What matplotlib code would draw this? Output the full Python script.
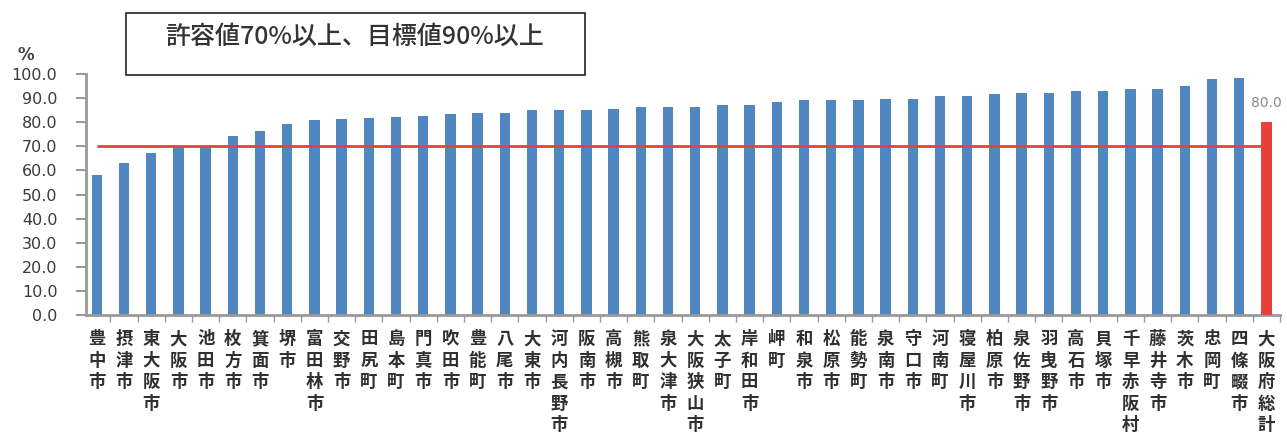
import numpy as np
import matplotlib.pyplot as plt
from matplotlib.patches import Rectangle

plt.rcParams['font.family'] = ['Noto Sans CJK JP', 'DejaVu Sans']

# --- データ ---
names = ['豊中市', '摂津市', '東大阪市', '大阪市', '池田市', '枚方市', '箕面市', '堺市',
         '富田林市', '交野市', '田尻町', '島本町', '門真市', '吹田市', '豊能町', '八尾市',
         '大東市', '河内長野市', '阪南市', '高槻市', '熊取町', '泉大津市', '大阪狭山市',
         '太子町', '岸和田市', '岬町', '和泉市', '松原市', '能勢町', '泉南市', '守口市',
         '河南町', '寝屋川市', '柏原市', '泉佐野市', '羽曳野市', '高石市', '貝塚市',
         '千早赤阪村', '藤井寺市', '茨木市', '忠岡町', '四條畷市']
values = [58.1, 63.1, 67.3, 69.9, 69.8, 74.2, 76.2, 79.2, 81.1, 81.5, 81.8, 82.3, 82.6,
          83.6, 84.0, 84.0, 85.1, 85.1, 85.1, 85.7, 86.4, 86.4, 86.4, 87.3, 87.0, 88.4,
          89.1, 89.1, 89.1, 89.8, 89.8, 90.9, 90.9, 91.8, 92.1, 92.1, 92.9, 93.2, 94.0,
          94.0, 95.0, 97.8, 98.2]
total_name = '大阪府総計'
total_value = 80.0
allow_line = 70.0
y_ticks = np.arange(0, 101, 10)

fig = plt.figure(figsize=(12.87, 4.36), dpi=100)
ax = fig.add_axes([0.0668, 0.2775, 0.9278, 0.5525])

x = np.arange(len(names))
ax.bar(x, values, width=0.38, color='#5087c0', zorder=2)
xt = len(names)
ax.bar([xt], [total_value], width=0.42, color='#e8403c', zorder=3)
ax.hlines(allow_line, 0, xt, color='#e8403c', lw=2, zorder=2.5)
ax.annotate(f'{total_value:.1f}', (xt, total_value), xytext=(0, 9), textcoords='offset points',
            ha='center', va='bottom', fontsize=10, color='#8a8a8a', family='DejaVu Sans')

ax.set_xlim(-0.4, xt + 0.48)
ax.set_ylim(0, 100)
ax.set_yticks(y_ticks)
ax.set_yticklabels([f'{v:.1f}' for v in y_ticks], fontsize=11.5, color='#3a3a3a',
                   family='DejaVu Sans')
ax.tick_params(axis='y', length=7, width=1.5, color='#999999', pad=13.5)

labels = ['\n'.join(s) for s in names + [total_name]]
ax.set_xticks(np.arange(xt + 1))
ax.set_xticklabels(labels, fontsize=12.5, fontweight='bold', color='#303030',
                   linespacing=1.25, va='top')
ax.tick_params(axis='x', length=0, pad=11)
ax.set_xticks(np.arange(xt + 1) + 0.5, minor=True)
ax.tick_params(axis='x', which='minor', length=5, width=1, color='#999999')

for side in ['top', 'right']:
    ax.spines[side].set_visible(False)
for side in ['left', 'bottom']:
    ax.spines[side].set_color('#999999')
    ax.spines[side].set_linewidth(2)

fig.text(17 / 1287, 1 - 55 / 436, '%', fontsize=12, fontweight='bold', color='#404040',
         va='center', ha='left', family='DejaVu Sans')

# タイトル枠
fig.patches.append(Rectangle((126 / 1287, 1 - 75 / 436), 459 / 1287, 62 / 436,
                             transform=fig.transFigure, fill=False, ec='#222222', lw=1.2))
fig.text(355 / 1287, 1 - 37 / 436, '許容値70%以上、目標値90%以上', fontsize=18,
         color='#333333', ha='center', va='center', fontweight='medium')

fig.savefig('out.png', dpi=100)
